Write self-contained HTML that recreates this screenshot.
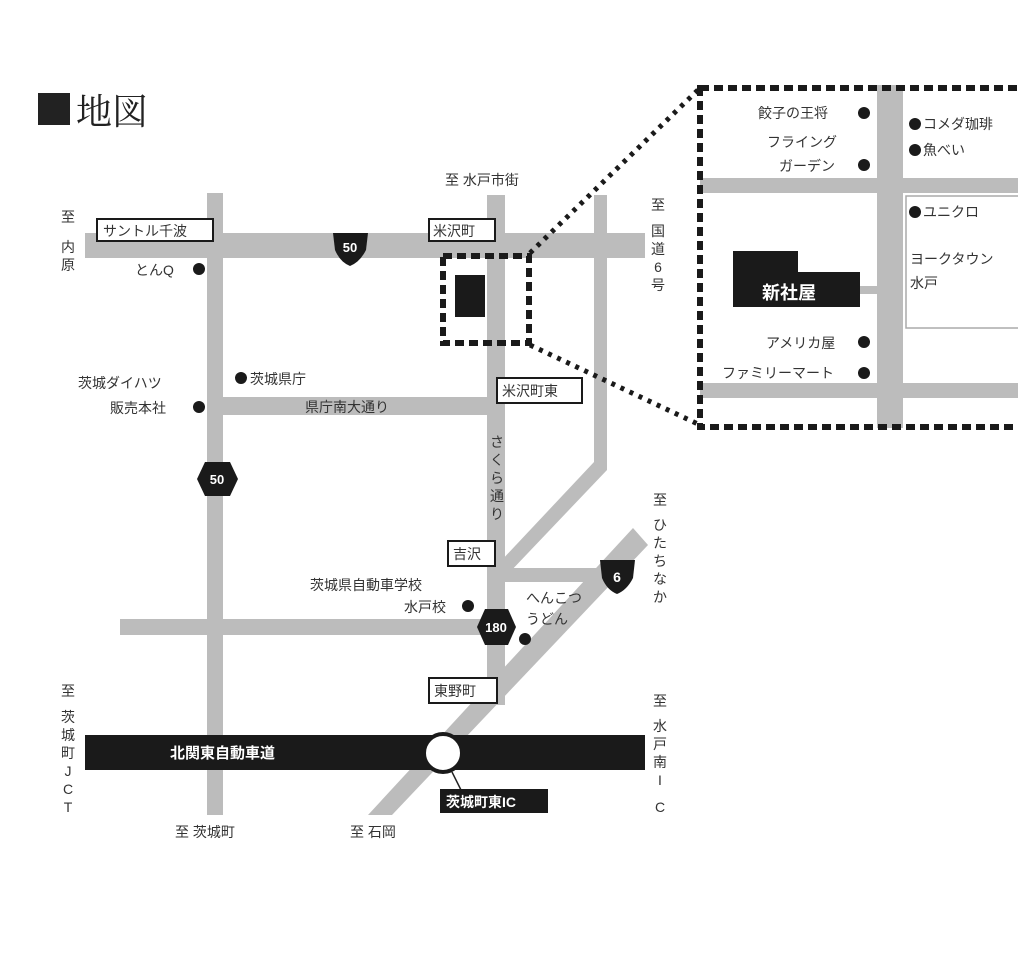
<!DOCTYPE html>
<html><head><meta charset="utf-8"><style>
html,body{margin:0;padding:0;background:#fff;}
svg{display:block;font-family:"Liberation Sans","Noto Sans CJK JP",sans-serif;}
</style></head><body>
<svg width="1018" height="963" viewBox="0 0 1018 963" xmlns="http://www.w3.org/2000/svg">
<rect width="1018" height="963" fill="#fff"/>
<!-- title -->
<rect x="38" y="93" width="32" height="32" fill="#222"/>
<text x="76" y="124" font-size="36" fill="#222" font-family="'Liberation Serif','Noto Serif CJK SC',serif">地図</text>

<!-- roads -->
<g fill="#bcbcbc">
<rect x="85" y="233" width="560" height="25"/>
<rect x="207" y="193" width="16" height="622"/>
<rect x="487" y="195" width="18" height="510"/>
<rect x="594" y="195" width="13" height="275"/>
<polygon points="594,462 607,470 507,575 500,562"/>
<rect x="222" y="397" width="266" height="18"/>
<rect x="120" y="619" width="370" height="16"/>
<rect x="505" y="568" width="115" height="14"/>
<polygon points="633,528 648,545 392,815 368,815"/>
</g>
<!-- highway -->
<rect x="85" y="735" width="560" height="35" fill="#1a1a1a"/>
<text x="170" y="758" font-size="15" font-weight="bold" fill="#fff">北関東自動車道</text>
<circle cx="443" cy="753" r="19" fill="#fff" stroke="#1a1a1a" stroke-width="4"/>
<line x1="452" y1="772" x2="462" y2="792" stroke="#222" stroke-width="1.5"/>
<rect x="440" y="789" width="108" height="24" fill="#1a1a1a"/>
<text x="446" y="807" font-size="14" font-weight="bold" fill="#fff">茨城町東IC</text>

<!-- zoom box small -->
<rect x="443" y="256" width="86" height="87" fill="none" stroke="#1a1a1a" stroke-width="6" stroke-dasharray="9,5"/>
<rect x="455" y="275" width="30" height="42" fill="#1a1a1a"/>
<line x1="530" y1="253" x2="700" y2="88" stroke="#1a1a1a" stroke-width="5" stroke-dasharray="4,6"/>
<line x1="530" y1="345" x2="700" y2="425" stroke="#1a1a1a" stroke-width="5" stroke-dasharray="4,6"/>

<!-- big zoom box -->
<g fill="#bcbcbc">
<rect x="877" y="85" width="26" height="343"/>
<rect x="700" y="178" width="318" height="15"/>
<rect x="700" y="383" width="318" height="15"/>
<rect x="860" y="286" width="17" height="8"/>
</g>
<rect x="906" y="196" width="120" height="132" fill="#fff" stroke="#aaa" stroke-width="1.5"/>
<polygon points="733,251 798,251 798,272 860,272 860,307 733,307" fill="#1a1a1a"/>
<text x="762" y="299" font-size="18" font-weight="bold" fill="#fff">新社屋</text>
<rect x="700" y="88" width="330" height="339" fill="none" stroke="#1a1a1a" stroke-width="6" stroke-dasharray="9,5"/>

<g font-size="14" fill="#333">
<text x="758" y="118">餃子の王将</text><circle cx="864" cy="113" r="6" fill="#1a1a1a"/>
<text x="767" y="147">フライング</text>
<text x="779" y="171">ガーデン</text><circle cx="864" cy="165" r="6" fill="#1a1a1a"/>
<circle cx="915" cy="124" r="6" fill="#1a1a1a"/><text x="923" y="129">コメダ珈琲</text>
<circle cx="915" cy="150" r="6" fill="#1a1a1a"/><text x="923" y="155">魚べい</text>
<circle cx="915" cy="212" r="6" fill="#1a1a1a"/><text x="923" y="217">ユニクロ</text>
<text x="910" y="264">ヨークタウン</text>
<text x="910" y="288">水戸</text>
<text x="766" y="348">アメリカ屋</text><circle cx="864" cy="342" r="6" fill="#1a1a1a"/>
<text x="722" y="378">ファミリーマート</text><circle cx="864" cy="373" r="6" fill="#1a1a1a"/>

<!-- main map labels -->
<text x="445" y="185">至 水戸市街</text>
<text x="135" y="275">とんQ</text><circle cx="199" cy="269" r="6" fill="#1a1a1a"/>
<circle cx="241" cy="378" r="6" fill="#1a1a1a"/><text x="250" y="384">茨城県庁</text>
<text x="78" y="388">茨城ダイハツ</text>
<text x="110" y="413">販売本社</text><circle cx="199" cy="407" r="6" fill="#1a1a1a"/>
<text x="305" y="412">県庁南大通り</text>
<text x="310" y="590">茨城県自動車学校</text>
<text x="404" y="612">水戸校</text><circle cx="468" cy="606" r="6" fill="#1a1a1a"/>
<text x="526" y="603">へんこつ</text>
<text x="526" y="624">うどん</text><circle cx="525" cy="639" r="6" fill="#1a1a1a"/>
<text x="175" y="837">至 茨城町</text>
<text x="350" y="837">至 石岡</text>
</g>
<!-- vertical labels -->
<g font-size="14" fill="#333" text-anchor="middle">
<text x="68" y="222">至</text><text x="68" y="252">内</text><text x="68" y="270">原</text>
<text x="658" y="210">至</text><text x="658" y="236">国</text><text x="658" y="254">道</text><text x="658" y="272">6</text><text x="658" y="290">号</text>
<text x="497" y="447">さ</text><text x="497" y="465">く</text><text x="497" y="483">ら</text><text x="497" y="501">通</text><text x="497" y="519">り</text>
<text x="660" y="505">至</text><text x="660" y="530">ひ</text><text x="660" y="548">た</text><text x="660" y="566">ち</text><text x="660" y="584">な</text><text x="660" y="602">か</text>
<text x="68" y="696">至</text><text x="68" y="722">茨</text><text x="68" y="740">城</text><text x="68" y="758">町</text><text x="68" y="776">J</text><text x="68" y="794">C</text><text x="68" y="812">T</text>
<text x="660" y="706">至</text><text x="660" y="731">水</text><text x="660" y="749">戸</text><text x="660" y="767">南</text><text x="660" y="785">I</text><text x="660" y="812">C</text>
</g>
<!-- boxed labels -->
<g font-size="14" fill="#333">
<rect x="97" y="219" width="116" height="22" fill="#fff" stroke="#1a1a1a" stroke-width="2"/><text x="103" y="236">サントル千波</text>
<rect x="429" y="219" width="66" height="22" fill="#fff" stroke="#1a1a1a" stroke-width="2"/><text x="433" y="236">米沢町</text>
<rect x="497" y="378" width="85" height="25" fill="#fff" stroke="#1a1a1a" stroke-width="2"/><text x="502" y="396">米沢町東</text>
<rect x="448" y="541" width="47" height="25" fill="#fff" stroke="#1a1a1a" stroke-width="2"/><text x="453" y="559">吉沢</text>
<rect x="429" y="678" width="68" height="25" fill="#fff" stroke="#1a1a1a" stroke-width="2"/><text x="434" y="696">東野町</text>
</g>
<!-- route shields -->
<path d="M333,233 L368,233 L366,250 Q360,262 350,266 Q340,262 335,250 Z" fill="#1a1a1a"/>
<text x="350" y="252" font-size="13" font-weight="bold" fill="#fff" text-anchor="middle">50</text>
<polygon points="205,462 230,462 238,479 230,496 205,496 197,479" fill="#1a1a1a"/>
<text x="217" y="484" font-size="13" font-weight="bold" fill="#fff" text-anchor="middle">50</text>
<polygon points="485,609 508,609 516,627 508,645 485,645 477,627" fill="#1a1a1a"/>
<text x="496" y="632" font-size="13" font-weight="bold" fill="#fff" text-anchor="middle">180</text>
<path d="M600,560 L635,560 L633,578 Q627,590 617,594 Q607,590 602,578 Z" fill="#1a1a1a"/>
<text x="617" y="582" font-size="14" font-weight="bold" fill="#fff" text-anchor="middle">6</text>
</svg>
</body></html>
